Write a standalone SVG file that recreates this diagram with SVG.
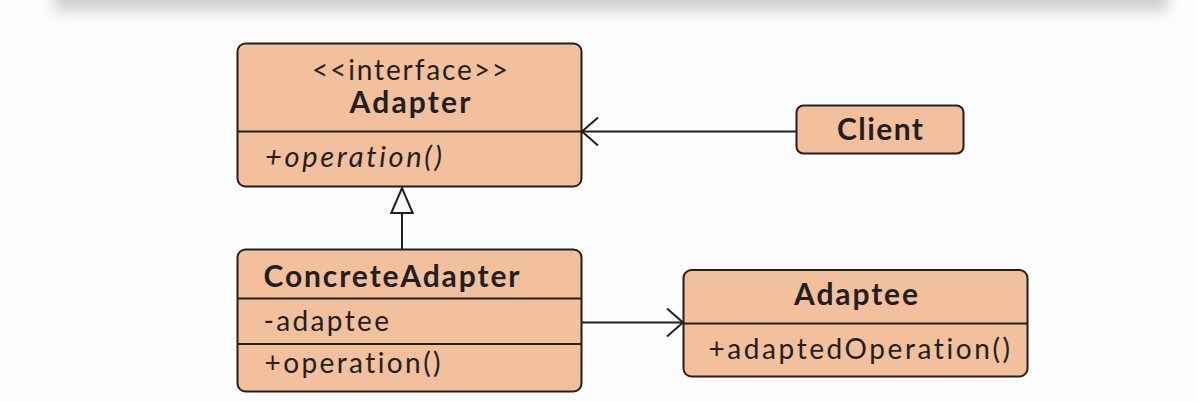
<svg xmlns="http://www.w3.org/2000/svg" width="1196" height="402" viewBox="0 0 1196 402">
<defs>
<filter id="blur" x="-10%" y="-200%" width="120%" height="500%"><feGaussianBlur stdDeviation="7"/></filter>
<marker id="open" viewBox="0 0 20 30" refX="18" refY="15" markerWidth="20" markerHeight="30" markerUnits="userSpaceOnUse" orient="auto"><path d="M2,1 L18,15 L2,29" fill="none" stroke="#231f20" stroke-width="2"/></marker>
<marker id="tri" viewBox="0 0 30 30" refX="27" refY="15" markerWidth="30" markerHeight="30" markerUnits="userSpaceOnUse" orient="auto"><path d="M2,4.3 L27,15 L2,25.7 Z" fill="#fff" stroke="#231f20" stroke-width="2" stroke-linejoin="miter"/></marker>
</defs>
<style>
.box{fill:#f2c09c;stroke:#231f20;stroke-width:2}
.div{stroke:#231f20;stroke-width:2}
.t{font-family:Lato,"Open Sans","Liberation Sans",sans-serif;fill:#231f20;font-size:28px;font-variant-ligatures:none}
.s{font-size:28px}
.b{font-weight:bold;font-size:30px}
.i{font-style:italic;font-size:29px}
.edge{stroke:#231f20;stroke-width:2;fill:none}
</style>
<rect x="0" y="0" width="1196" height="402" fill="#fdfdfd"/>
<rect x="54" y="-30" width="1114" height="41" fill="#cfd0d3" filter="url(#blur)"/>
<g id="connectors">
<line class="edge" x1="796" y1="131.5" x2="582" y2="131.5" marker-end="url(#open)"/>
<line class="edge" x1="402" y1="249" x2="402" y2="188" marker-end="url(#tri)"/>
<line class="edge" x1="582" y1="322.5" x2="683" y2="322.5" marker-end="url(#open)"/>
</g>
<g id="adapter">
<rect class="box" x="237.5" y="43.5" width="344" height="143" rx="8"/>
<line class="div" x1="237.5" y1="131.5" x2="581.5" y2="131.5"/>
<text class="t s" x="312" y="80" textLength="196" lengthAdjust="spacing">&lt;&lt;interface&gt;&gt;</text>
<text class="t b" x="349.5" y="113" textLength="121" lengthAdjust="spacing">Adapter</text>
<text class="t i" x="265" y="167" textLength="177" lengthAdjust="spacing">+operation()</text>
</g>
<g id="client">
<rect class="box" x="796.5" y="105.5" width="167" height="48" rx="7"/>
<text class="t b" x="837" y="140" textLength="86" lengthAdjust="spacing">Client</text>
</g>
<g id="concreteAdapter">
<rect class="box" x="237.5" y="249.5" width="344" height="142" rx="8"/>
<line class="div" x1="237.5" y1="298.5" x2="581.5" y2="298.5"/>
<line class="div" x1="237.5" y1="344" x2="581.5" y2="344"/>
<text class="t b" x="263.5" y="287" textLength="256" lengthAdjust="spacing">ConcreteAdapter</text>
<text class="t" x="263.5" y="331" textLength="125.5" lengthAdjust="spacing">-adaptee</text>
<text class="t" x="264.5" y="373" textLength="176" lengthAdjust="spacing">+operation()</text>
</g>
<g id="adaptee">
<rect class="box" x="683.5" y="270" width="344" height="106.5" rx="8"/>
<line class="div" x1="683.5" y1="323.5" x2="1027.5" y2="323.5"/>
<text class="t b" x="794" y="305" textLength="124" lengthAdjust="spacing">Adaptee</text>
<text class="t" x="708.5" y="359" textLength="301.5" lengthAdjust="spacing">+adaptedOperation()</text>
</g>
</svg>
